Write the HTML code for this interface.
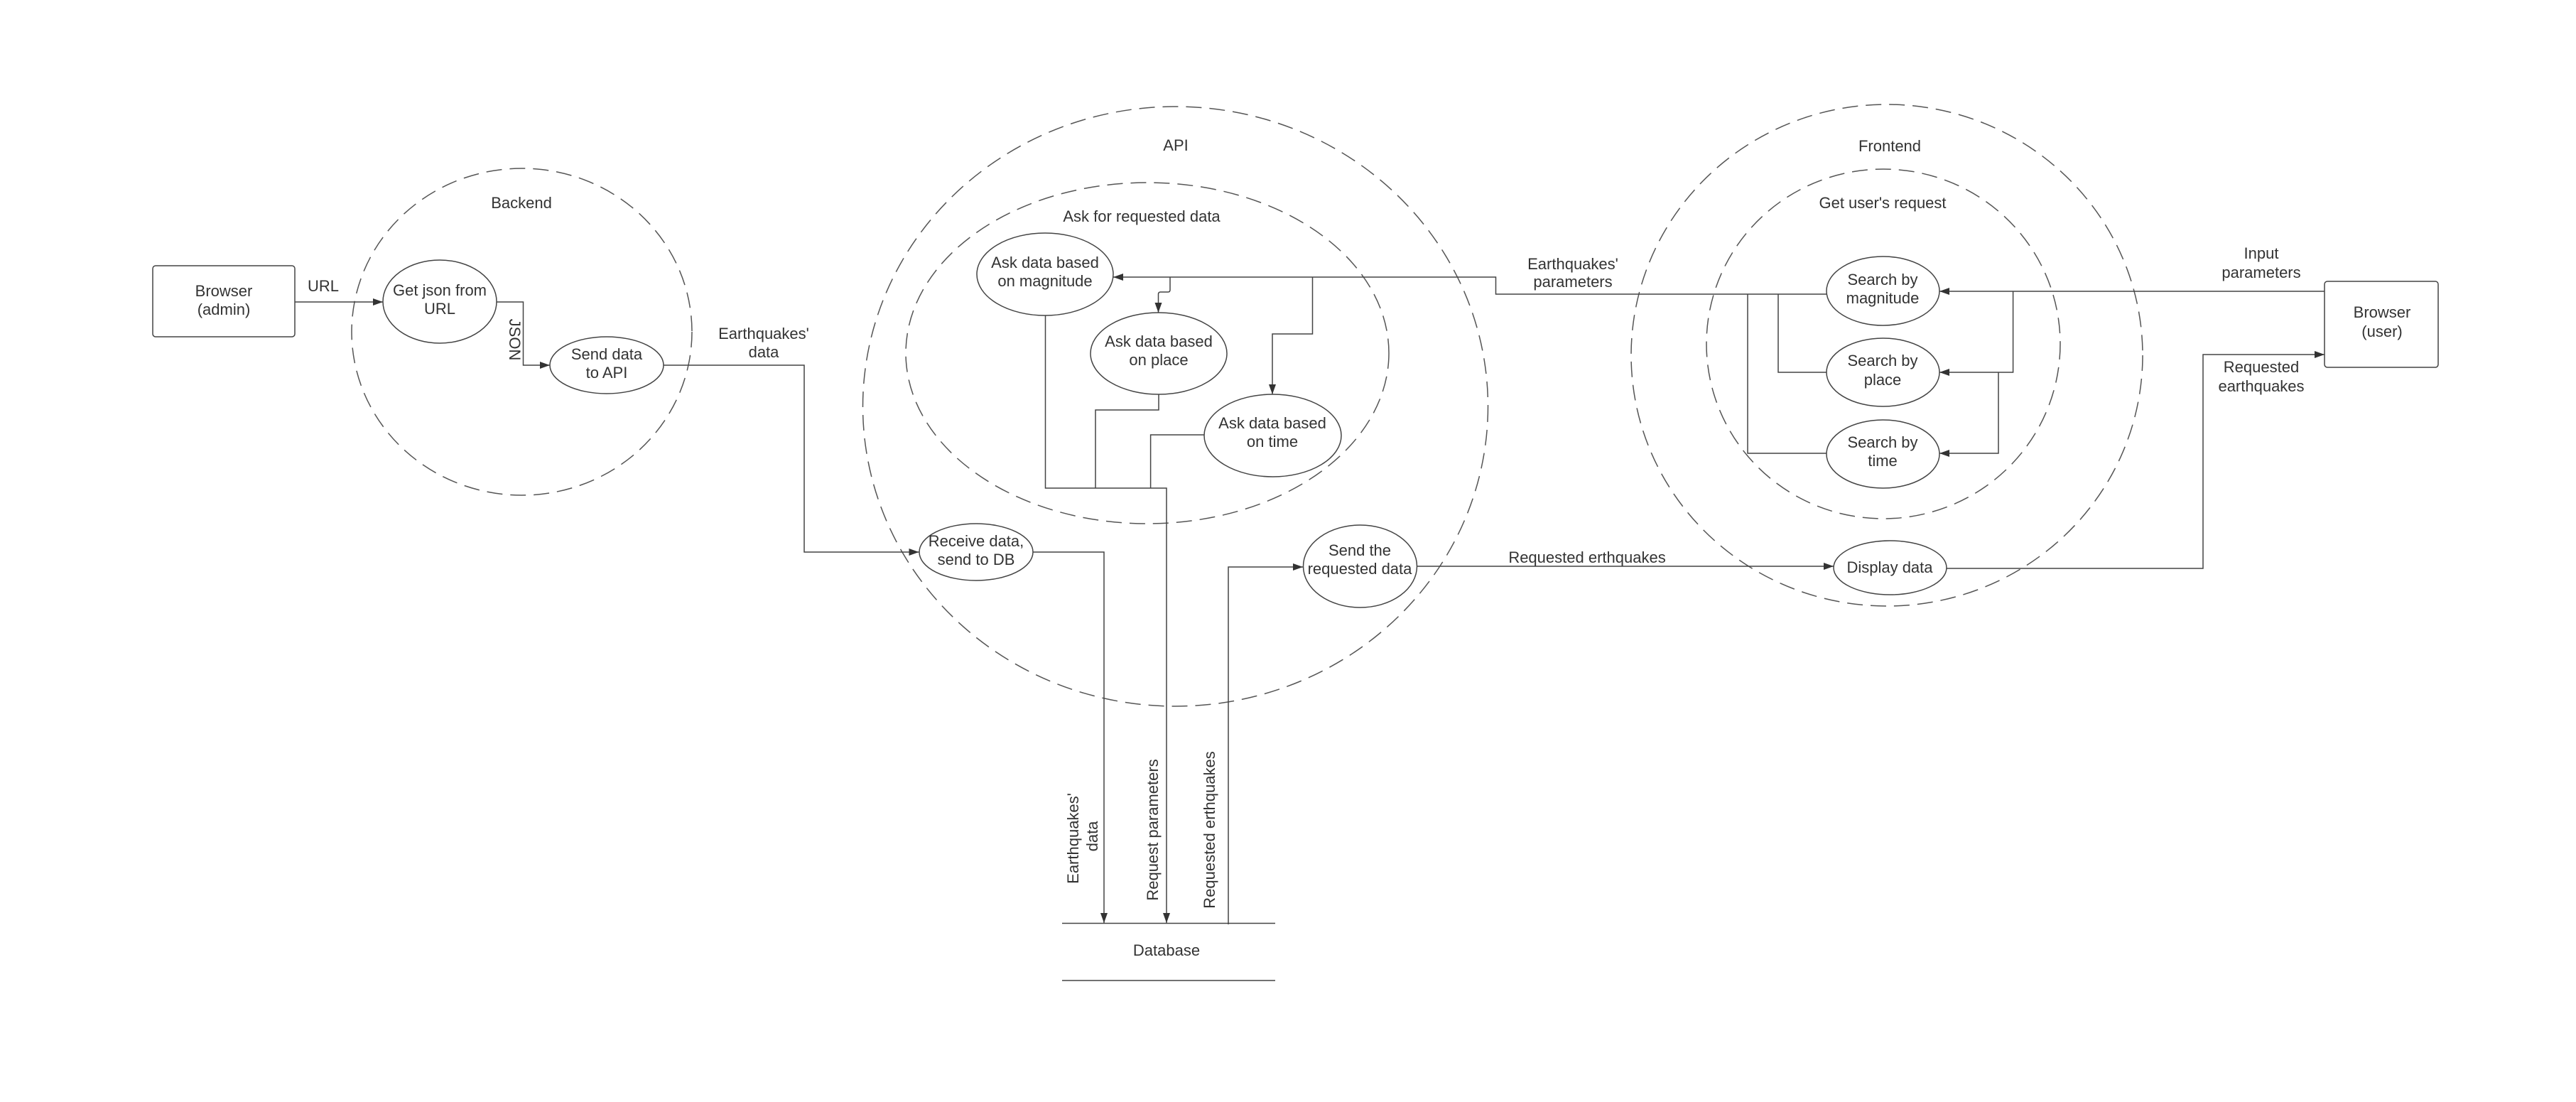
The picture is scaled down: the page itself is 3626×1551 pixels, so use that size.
<!DOCTYPE html>
<html><head><meta charset="utf-8"><style>
html,body{margin:0;padding:0;background:#fff;}
svg{display:block;}
text{font-family:"Liberation Sans",sans-serif;font-size:22px;fill:#333;text-anchor:middle;}
</style></head><body>
<svg width="3626" height="1551" viewBox="0 0 3626 1551" xmlns="http://www.w3.org/2000/svg">
<defs>
<marker id="a" viewBox="0 0 14 10" refX="14" refY="5" markerWidth="14" markerHeight="10" markerUnits="userSpaceOnUse" orient="auto">
<path d="M0,0 L14,5 L0,10 z" fill="#333"/></marker>
</defs>
<rect width="3626" height="1551" fill="#fff"/>
<g fill="none" stroke="#555" stroke-width="1.5" stroke-dasharray="22 11">
<ellipse cx="734.5" cy="467" rx="239.5" ry="230"/>
<ellipse cx="1654.5" cy="572" rx="440" ry="422"/>
<ellipse cx="1615" cy="497" rx="340" ry="240"/>
<ellipse cx="2656" cy="500" rx="360" ry="353"/>
<ellipse cx="2651" cy="484" rx="249" ry="246"/>
</g>
<g fill="#fff" stroke="#444" stroke-width="1.5">
<rect x="215" y="374" width="200" height="100" rx="4"/>
<rect x="3272" y="396" width="160" height="121" rx="4"/>
<ellipse cx="619" cy="424.5" rx="80" ry="58.5"/>
<ellipse cx="854" cy="514" rx="80" ry="40"/>
<ellipse cx="1471" cy="386" rx="96" ry="58"/>
<ellipse cx="1631" cy="497.5" rx="96" ry="57.5"/>
<ellipse cx="1791.5" cy="613" rx="96.5" ry="58"/>
<ellipse cx="1374" cy="777" rx="80" ry="40"/>
<ellipse cx="1914.5" cy="797" rx="80" ry="58"/>
<ellipse cx="2650.5" cy="409.5" rx="79.5" ry="48.5"/>
<ellipse cx="2650.5" cy="524" rx="79.5" ry="48"/>
<ellipse cx="2650.5" cy="639" rx="79.5" ry="48"/>
<ellipse cx="2660.5" cy="799" rx="79.5" ry="38"/>
</g>
<g fill="none" stroke="#444" stroke-width="1.5">
<line x1="1495" y1="1299.5" x2="1795" y2="1299.5"/>
<line x1="1495" y1="1380" x2="1795" y2="1380"/>
<path d="M415,425 H539" marker-end="url(#a)"/>
<path d="M699,425 H736.5 V514 H774" marker-end="url(#a)"/>
<path d="M934,514 H1132 V777 H1293.5" marker-end="url(#a)"/>
<path d="M1454,777 H1554 V1299" marker-end="url(#a)"/>
<path d="M1471.5,444 V687 H1642 V1299" marker-end="url(#a)"/>
<path d="M1631,555 V577 H1542 V687"/>
<path d="M1695,612 H1619.6 V687"/>
<path d="M2571,414 H2105.5 V390 H1567" marker-end="url(#a)"/>
<path d="M1647,390 V408 Q1647,411 1644,411 H1633.5 Q1630.5,411 1630.5,414 V440" marker-end="url(#a)"/>
<path d="M1847.5,390 V470 H1791 V555" marker-end="url(#a)"/>
<path d="M1729,1301 V798 H1834" marker-end="url(#a)"/>
<path d="M1995,797 H2581" marker-end="url(#a)"/>
<path d="M2740,800 H3101 V499 H3272" marker-end="url(#a)"/>
<path d="M3272,410 H2730" marker-end="url(#a)"/>
<path d="M2833.6,410 V524 H2730" marker-end="url(#a)"/>
<path d="M2813,524 V638 H2730" marker-end="url(#a)"/>
<path d="M2503,414 V524 H2571"/>
<path d="M2460,414 V638 H2571"/>
</g>
<text x="315" y="417">Browser</text>
<text x="315" y="443">(admin)</text>
<text x="455" y="410">URL</text>
<text x="734" y="293">Backend</text>
<text x="619" y="416">Get json from</text>
<text x="619" y="442">URL</text>
<text transform="translate(724,478) rotate(90)" y="7">JSON</text>
<text x="854" y="506">Send data</text>
<text x="854" y="532">to API</text>
<text x="1075" y="477">Earthquakes'</text>
<text x="1075" y="503">data</text>
<text x="1655" y="212">API</text>
<text x="1607" y="312">Ask for requested data</text>
<text x="1471" y="377">Ask data based</text>
<text x="1471" y="403">on magnitude</text>
<text x="1631" y="488">Ask data based</text>
<text x="1631" y="514">on place</text>
<text x="1791" y="603">Ask data based</text>
<text x="1791" y="629">on time</text>
<text x="1374" y="769">Receive data,</text>
<text x="1374" y="795">send to DB</text>
<text x="1914" y="782">Send the</text>
<text x="1914" y="808">requested data</text>
<text x="1642" y="1345">Database</text>
<text transform="translate(1511,1180) rotate(-90)" y="7">Earthquakes'</text>
<text transform="translate(1538,1177) rotate(-90)" y="7">data</text>
<text transform="translate(1623,1168) rotate(-90)" y="7">Request parameters</text>
<text transform="translate(1703,1168) rotate(-90)" y="7">Requested erthquakes</text>
<text x="2214" y="379">Earthquakes'</text>
<text x="2214" y="404">parameters</text>
<text x="2234" y="792">Requested erthquakes</text>
<text x="2660" y="213">Frontend</text>
<text x="2650" y="293">Get user's request</text>
<text x="2650" y="401">Search by</text>
<text x="2650" y="427">magnitude</text>
<text x="2650" y="515">Search by</text>
<text x="2650" y="542">place</text>
<text x="2650" y="630">Search by</text>
<text x="2650" y="656">time</text>
<text x="2660" y="806">Display data</text>
<text x="3183" y="364">Input</text>
<text x="3183" y="391">parameters</text>
<text x="3183" y="524">Requested</text>
<text x="3183" y="551">earthquakes</text>
<text x="3353" y="447">Browser</text>
<text x="3353" y="474">(user)</text>
</svg>
</body></html>
